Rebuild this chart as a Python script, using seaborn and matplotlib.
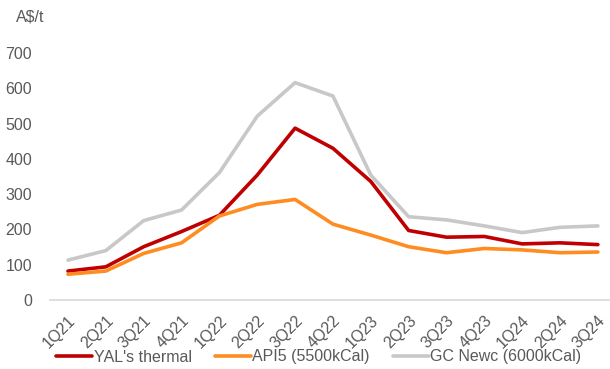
import matplotlib
matplotlib.use("Agg")
import matplotlib.pyplot as plt
import seaborn as sns
import pandas as pd

quarters = ["1Q21", "2Q21", "3Q21", "4Q21", "1Q22", "2Q22", "3Q22", "4Q22",
            "1Q23", "2Q23", "3Q23", "4Q23", "1Q24", "2Q24", "3Q24"]
yal_thermal = [82, 94, 151, 194, 240, 354, 487, 430, 336, 197, 178, 180, 159, 162, 157]
api5 = [73, 82, 132, 162, 238, 271, 285, 215, 184, 151, 134, 146, 142, 134, 136]
gc_newc = [113, 140, 225, 255, 361, 521, 616, 578, 354, 236, 227, 210, 191, 206, 210]

series_names = ["YAL's thermal", "API5 (5500kCal)", "GC Newc (6000kCal)"]
colors = ["#C00000", "#FF8C21", "#C8C8C8"]

rows = []
for name, vals in zip(series_names, [yal_thermal, api5, gc_newc]):
    for i, (q, v) in enumerate(zip(quarters, vals)):
        rows.append({"idx": i, "quarter": q, "series": name, "value": v})
df = pd.DataFrame(rows)

sns.set_theme(style="white")
plt.rcParams["font.family"] = ["Liberation Sans", "DejaVu Sans"]
text_color = "#595959"

W, H = 610, 369
fig = plt.figure(figsize=(W / 100, H / 100), dpi=100)
ax = fig.add_axes([50 / W, 1 - 300 / H, 560 / W, 247 / H])

sns.lineplot(data=df, x="idx", y="value", hue="series", hue_order=series_names,
             palette=colors, linewidth=2.6, ax=ax, legend=False)

ax.set_xlim(-0.475, 14.32)
ax.set_ylim(0, 700)
ax.set_yticks(range(0, 701, 100))
ax.set_xticks(range(len(quarters)))
ax.set_xticklabels(quarters, rotation=45, ha="right", va="top",
                   rotation_mode="anchor")
ax.tick_params(axis="both", length=0, labelsize=11.5, colors=text_color)
ax.tick_params(axis="y", pad=13)
ax.tick_params(axis="x", pad=9.5)
ax.set_xlabel("")
ax.set_ylabel("")

for side in ["top", "right", "left"]:
    ax.spines[side].set_visible(False)
ax.spines["bottom"].set_color("#D9D9D9")
ax.spines["bottom"].set_linewidth(1.2)

fig.text(16 / W, 1 - 17 / H, "A$/t", fontsize=11.5, color=text_color,
         va="center", ha="left")

# Legend row beneath the rotated quarter labels
handles = [plt.Line2D([0], [0], color=c, linewidth=2.6) for c in colors]
leg_x, leg_y = 57 / W, 1 - 357 / H
leg = fig.legend(handles, series_names, loc="center left",
                 bbox_to_anchor=(leg_x, leg_y), ncol=3,
                 frameon=False, fontsize=11.5, handlelength=2.25,
                 handletextpad=0.1, columnspacing=1.45, borderaxespad=0,
                 borderpad=0)
for t in leg.get_texts():
    t.set_color(text_color)

# Nudge the legend so its first key starts at the intended pixel column
fig.canvas.draw()
first_key = leg.legend_handles[0].get_window_extent()
dx = (56 - first_key.x0) / W
leg.set_bbox_to_anchor((leg_x + dx, leg_y), transform=fig.transFigure)

fig.savefig("out.png", dpi=100)
